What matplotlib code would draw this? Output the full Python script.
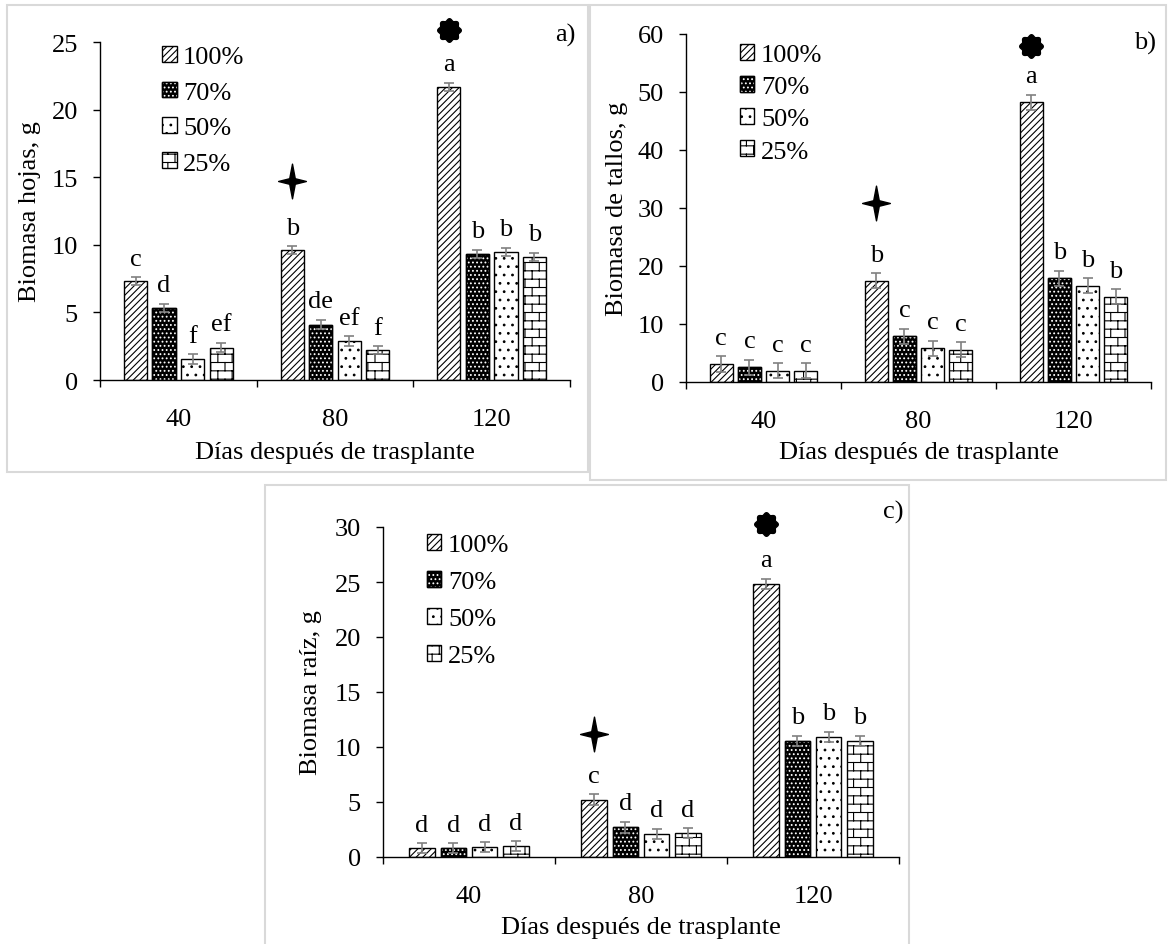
import warnings
import numpy as np
import matplotlib
matplotlib.use("Agg")
import matplotlib.pyplot as plt
import matplotlib.hatch as mhatch
from matplotlib.patches import Patch, Rectangle
from matplotlib.path import Path

warnings.filterwarnings("ignore", message=".*hatch.*")

# ---------- DATA ----------
days = ["40", "80", "120"]
treatments = ["100%", "70%", "50%", "25%"]

# rows = treatment (100, 70, 50, 25 %), columns = day group
hojas = [[7.3, 9.6, 21.7], [5.35, 4.1, 9.35], [1.55, 2.9, 9.5], [2.4, 2.2, 9.1]]
hojas_err = [[0.3, 0.3, 0.3], [0.3, 0.35, 0.3], [0.35, 0.35, 0.3], [0.35, 0.3, 0.3]]
hojas_let = [["c", "b", "a"], ["d", "de", "b"], ["f", "ef", "b"], ["ef", "f", "b"]]

tallos = [[3.1, 17.45, 48.2], [2.55, 7.85, 17.85], [1.95, 5.8, 16.6], [1.95, 5.55, 14.7]]
tallos_err = [[1.3, 1.3, 1.3], [1.3, 1.3, 1.3], [1.3, 1.3, 1.3], [1.3, 1.3, 1.3]]
tallos_let = [["c", "b", "a"], ["c", "c", "b"], ["c", "c", "b"], ["c", "c", "b"]]

raiz = [[0.8, 5.2, 24.85], [0.8, 2.7, 10.55], [0.9, 2.1, 10.95], [1.0, 2.15, 10.55]]
raiz_err = [[0.45, 0.5, 0.45], [0.45, 0.5, 0.45], [0.45, 0.45, 0.45], [0.45, 0.45, 0.45]]
raiz_let = [["d", "c", "a"], ["d", "d", "b"], ["d", "d", "b"], ["d", "d", "b"]]

# symbols above the 100% bar at 80 (star) and 120 (blob) days
star_y = [14.7, 30.9, 11.2]
blob_y = [25.9, 58.0, 30.3]


# ---------- custom brick hatch ('b') ----------
class BrickHatch(mhatch.HatchPatternBase):
    def __init__(self, hatch, density):
        n = hatch.count("b")
        self.rows = 12 * n
        self.cols = 7 * n
        self.num_vertices = 2 * (self.rows + self.rows * self.cols + self.cols) if n else 0

    def set_vertices_and_codes(self, vertices, codes):
        segs = []
        for i in range(self.rows):
            yl = (i + 0.5) / self.rows
            segs.append(((0, yl), (1, yl)))
            ya, yb = yl, yl + 1 / self.rows
            shift = (0.25 + 0.5 * (i % 2)) / self.cols
            for j in range(self.cols):
                x = j / self.cols + shift
                if yb <= 1:
                    segs.append(((x, ya), (x, yb)))
                else:
                    segs.append(((x, ya), (x, 1)))
                    segs.append(((x, 0), (x, yb - 1)))
        vertices[:] = np.array(segs).reshape(-1, 2)
        codes[0::2] = Path.MOVETO
        codes[1::2] = Path.LINETO


mhatch._hatch_types.append(BrickHatch)

# ---------- STYLE ----------
FS = 19
plt.rcParams["font.family"] = ["Liberation Serif", "DejaVu Serif"]
plt.rcParams["font.size"] = FS
plt.rcParams["hatch.linewidth"] = 0.8

W, H = 1170, 945
fig = plt.figure(figsize=(W / 100, H / 100), dpi=100)

pitch, bw = 0.182, 0.148
GRAY = "#808080"

star = Path([(0, 1.25), (0.2, 0.2), (1, 0), (0.2, -0.2), (0, -1.25),
             (-0.2, -0.2), (-1, 0), (-0.2, 0.2), (0, 1.25)], closed=True)
th = np.linspace(0, 2 * np.pi, 97)
rr = 1 + 0.1 * np.cos(8 * th)
blob = Path(np.column_stack([rr * np.sin(th), rr * np.cos(th)]), closed=True)


def draw_bar(ax, xs, vals, k):
    if k == 0:
        ax.bar(xs, vals, bw, color="white", edgecolor="black", lw=1, hatch="/////", zorder=2)
    elif k == 1:
        ax.bar(xs, vals, bw, color="black", edgecolor="black", lw=1, zorder=2)
        ax.bar(xs, vals, bw, color="none", edgecolor="white", lw=0, hatch="....", zorder=2.1)
        ax.bar(xs, vals, bw, color="none", edgecolor="black", lw=1, zorder=2.2)
    elif k == 2:
        ax.bar(xs, vals, bw, color="white", edgecolor="black", lw=1, hatch="..", zorder=2)
    else:
        ax.bar(xs, vals, bw, color="white", edgecolor="black", lw=1, hatch="b", zorder=2)


def legend_handles():
    return [
        (Patch(fc="white", ec="black", lw=1, hatch="/////"),),
        (Patch(fc="black", ec="black", lw=1),
         Patch(fc="none", ec="white", lw=0, hatch="...."),
         Patch(fc="none", ec="black", lw=1)),
        (Patch(fc="white", ec="black", lw=1, hatch=".."),),
        (Patch(fc="white", ec="black", lw=1, hatch="b"),),
    ]


def panel(rect, series, errs, letters, ymax, ystep, ylabel, ylab_x, xlab_y,
          tag, tag_xy, sy, by, leg_xy, leg_sp):
    ax = fig.add_axes(rect)
    x = np.arange(len(days)) + 0.5
    for k in range(len(treatments)):
        xs = x + (k - 1.5) * pitch
        draw_bar(ax, xs, series[k], k)
        ax.errorbar(xs, series[k], yerr=errs[k], fmt="none", ecolor=GRAY,
                    elinewidth=1.2, capsize=3.5, capthick=1.2, zorder=4)
        for xi, v, e, t in zip(xs, series[k], errs[k], letters[k]):
            ax.annotate(t, (xi, v + e), xytext=(0, 9), textcoords="offset points",
                        ha="center", va="baseline", fontsize=FS)
    x100 = x - 1.5 * pitch
    ax.plot(x100[1], sy, marker=star, ms=25, color="black", ls="none", clip_on=False)
    ax.plot(x100[2], by, marker=blob, ms=17, color="black", ls="none", clip_on=False)

    ax.set_xlim(0, 3)
    ax.set_ylim(0, ymax)
    ax.set_yticks(np.arange(0, ymax + 0.1, ystep))
    ax.set_xticks([0, 1, 2, 3])
    ax.set_xticklabels([])
    ax.set_xticks(x, minor=True)
    ax.set_xticklabels(days, minor=True)
    ax.tick_params(axis="x", which="major", length=5, width=1, direction="out")
    ax.tick_params(axis="x", which="minor", length=0, pad=20, labelsize=FS)
    ax.tick_params(axis="y", length=5, width=1, direction="out", pad=11, labelsize=FS)
    for s in ["top", "right"]:
        ax.spines[s].set_visible(False)
    for s in ["left", "bottom"]:
        ax.spines[s].set_linewidth(1)
    ax.set_ylabel(ylabel, fontsize=FS, va="center")
    ax.yaxis.set_label_coords(ylab_x, 0.5)
    ax.set_xlabel("Días después de trasplante", fontsize=FS, va="center")
    ax.xaxis.set_label_coords(0.5, xlab_y)
    ax.text(tag_xy[0], tag_xy[1], tag, transform=ax.transAxes, ha="center",
            va="center", fontsize=FS)
    ax.legend(legend_handles(), treatments, loc="upper left", bbox_to_anchor=leg_xy,
              frameon=False, borderpad=0, borderaxespad=0, handlelength=0.55,
              handleheight=0.55, handletextpad=0.25, labelspacing=leg_sp, fontsize=FS)
    return ax


def px_rect(l, t, r, b):
    return [l / W, 1 - b / H, (r - l) / W, (b - t) / H]


# panel boxes
for (l, t, r, b) in [(7, 6, 588, 473), (590, 6, 1166, 481), (265, 486, 909, 960)]:
    fig.add_artist(Rectangle((l / W, 1 - b / H), (r - l) / W, (b - t) / H,
                             transform=fig.transFigure, fill=False,
                             edgecolor="#d9d9d9", lw=1.5))

panel(px_rect(100, 43, 570, 381), hojas, hojas_err, hojas_let, 25, 5,
      "Biomasa hojas, g", -0.149, -0.213, "a)", (0.991, 1.023),
      star_y[0], blob_y[0], (0.132, 0.988), 0.5)
panel(px_rect(686, 35, 1151, 383), tallos, tallos_err, tallos_let, 60, 10,
      "Biomasa de tallos, g", -0.148, -0.201, "b)", (0.987, 0.977),
      star_y[1], blob_y[1], (0.116, 0.971), 0.37)
panel(px_rect(383, 528, 899, 858), raiz, raiz_err, raiz_let, 30, 5,
      "Biomasa raíz, g", -0.14, -0.212, "c)", (0.988, 1.048),
      star_y[2], blob_y[2], (0.085, 0.979), 0.56)

fig.savefig("out.png", dpi=100)
